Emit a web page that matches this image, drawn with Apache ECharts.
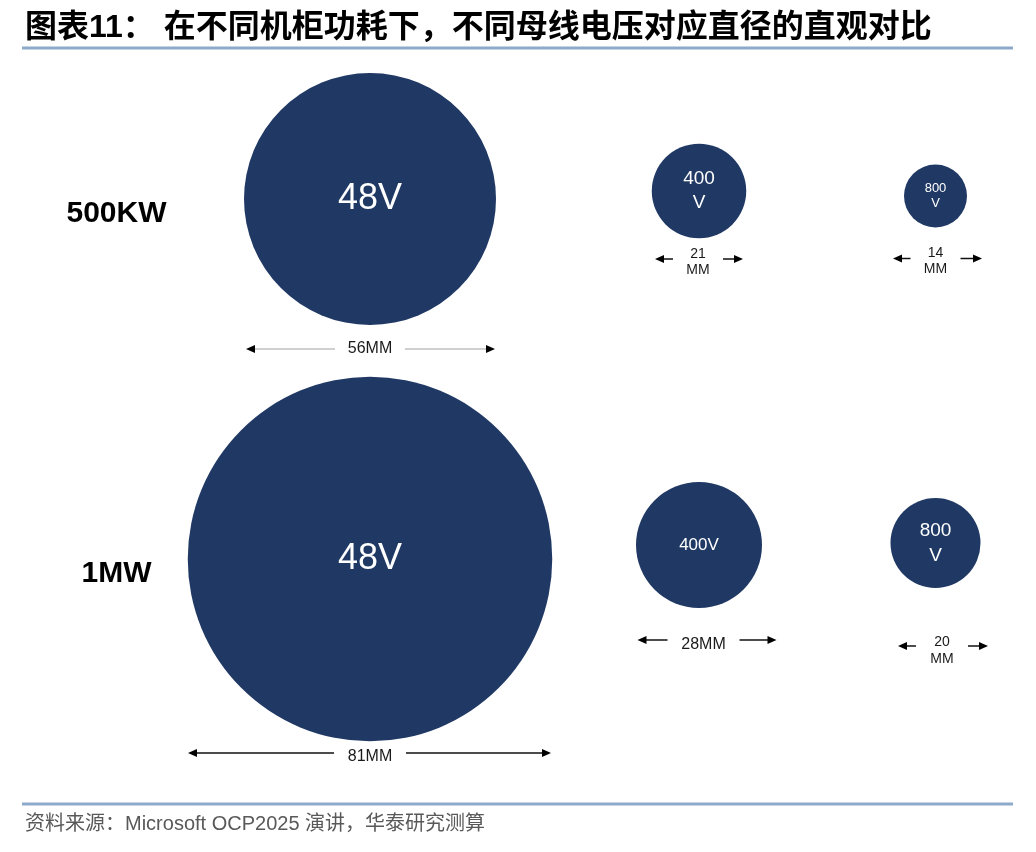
<!DOCTYPE html>
<html><head><meta charset="utf-8">
<script src="https://cdn.jsdelivr.net/npm/echarts@6/dist/echarts.min.js"></script>
<style>html,body{margin:0;padding:0;background:#fff}#c{width:1036px;height:852px}</style>
</head><body><div id="c"></div>
<script>
// ---- data ----
const powers = ['500KW', '1MW'];
const voltages = ['48V', '400V', '800V'];
const diameter48V = [56, 81];   // mm, per power level
const diameter400V = [21, 28];
const diameter800V = [14, 20];
const titleText = '图表11： 在不同机柜功耗下，不同母线电压对应直径的直观对比';
const sourceText = '资料来源：Microsoft OCP2025 演讲，华泰研究测算';

// ---- layout / style ----
const diameters = [diameter48V, diameter400V, diameter800V];
const PX_PER_MM = 4.5;
const NAVY = '#1f3864';
const SANS = "'Liberation Sans', Arial, 'Noto Sans CJK SC', sans-serif";
const grids = [
  {left: 270, width: 200, top: 19, height: 720},
  {left: 649, width: 100, top: 14, height: 708},
  {left: 885.5, width: 100, top: 22.5, height: 694}
];
// label style inside circles [col][row]
const circleLabel = [
  [{size: 36, wrap: false}, {size: 36, wrap: false}],
  [{size: 19, wrap: true, lh: 24}, {size: 17, wrap: false}],
  [{size: 13, wrap: true, lh: 15}, {size: 19, wrap: true, lh: 25}]
];
// dimension arrow layout, pixel offsets from circle centre [col][row]
const arrowLayout = [
  [{l: -124, r: 125, ay: 150, tx: 0, ty: 0, gap: 35, font: 16, wrap: false, color: '#c0c0c0'},
   {l: -182, r: 181, ay: 194, tx: 0, ty: 4, gap: 36, font: 16, wrap: false, color: '#111'}],
  [{l: -44, r: 44, ay: 68, tx: -1, ty: 3, gap: 25, font: 14, lh: 16, wrap: true, color: '#111'},
   {l: -61.5, r: 77.5, ay: 95, tx: 4.5, ty: 5, gap: 36, font: 16, wrap: false, color: '#111'}],
  [{l: -42.5, r: 46.5, ay: 62.5, tx: 0, ty: 3, gap: 25, font: 14, lh: 16, wrap: true, color: '#111'},
   {l: -37.5, r: 52.5, ay: 103, tx: 6.5, ty: 4.5, gap: 26, font: 14, lh: 17, wrap: true, color: '#111'}]
];

function arrowRenderer(col) {
  return function (params, api) {
    const row = params.dataIndex;
    const c = api.coord([api.value(0), api.value(1)]);
    const L = arrowLayout[col][row];
    const y = c[1] + L.ay;
    const xl = c[0] + L.l, xr = c[0] + L.r, tx = c[0] + L.tx;
    const ah = 9, hw = 4;
    const ls = {stroke: L.color, lineWidth: 1.5};
    return {type: 'group', children: [
      {type: 'line', shape: {x1: xl + ah - 1, y1: y, x2: tx - L.gap, y2: y}, style: ls},
      {type: 'line', shape: {x1: tx + L.gap, y1: y, x2: xr - ah + 1, y2: y}, style: ls},
      {type: 'polygon', shape: {points: [[xl, y], [xl + ah, y - hw], [xl + ah, y + hw]]}, style: {fill: '#000'}},
      {type: 'polygon', shape: {points: [[xr, y], [xr - ah, y - hw], [xr - ah, y + hw]]}, style: {fill: '#000'}},
      {type: 'text', x: tx, y: y + L.ty, style: {
        text: api.value(2) + (L.wrap ? '\nMM' : 'MM'),
        align: 'center', verticalAlign: 'middle', fontSize: L.font,
        lineHeight: L.lh || L.font + 2, fill: '#1a1a1a', fontFamily: SANS}}
    ]};
  };
}

const series = [];
voltages.forEach((v, col) => {
  const data = powers.map((p, row) => {
    const st = circleLabel[col][row];
    return {
      value: [v, p, diameters[col][row]],
      label: {
        formatter: st.wrap ? v.replace('V', '') + '\nV' : v,
        fontSize: st.size, lineHeight: st.lh || st.size + 4
      }
    };
  });
  series.push({
    type: 'scatter', xAxisIndex: col, yAxisIndex: col, clip: false,
    symbol: 'circle',
    symbolSize: val => val[2] * PX_PER_MM,
    itemStyle: {color: NAVY, opacity: 1},
    label: {show: true, position: 'inside', color: '#fff', fontFamily: SANS},
    emphasis: {disabled: true},
    silent: true,
    data: data
  });
  series.push({
    type: 'custom', xAxisIndex: col, yAxisIndex: col, clip: false, silent: true,
    renderItem: arrowRenderer(col),
    data: powers.map((p, row) => [v, p, diameters[col][row]])
  });
});

const chart = echarts.init(document.getElementById('c'));
chart.setOption({
  backgroundColor: '#fff',
  animation: false,
  grid: grids,
  xAxis: voltages.map((v, i) => ({type: 'category', gridIndex: i, data: [v], show: false})),
  yAxis: voltages.map((v, i) => ({
    type: 'category', gridIndex: i, data: powers, inverse: true, show: i === 0,
    axisLine: {show: false}, axisTick: {show: false}, splitLine: {show: false},
    axisLabel: {show: i === 0, fontSize: 30, fontWeight: 'bold', color: '#000',
      fontFamily: SANS, align: 'center', verticalAlign: 'top', margin: 153.5, lineHeight: 30}
  })),
  graphic: [
    {type: 'text', x: 25, y: 28, style: {text: titleText, fontSize: 32, fontWeight: 'bold',
      fill: '#000', fontFamily: SANS, verticalAlign: 'middle'}},
    {type: 'line', shape: {x1: 22, y1: 48, x2: 1013, y2: 48}, style: {stroke: '#8eaacb', lineWidth: 3}},
    {type: 'line', shape: {x1: 22, y1: 804, x2: 1013, y2: 804}, style: {stroke: '#8eaacb', lineWidth: 3}},
    {type: 'text', x: 25, y: 824, style: {text: sourceText, fontSize: 20,
      fill: '#595959', fontFamily: SANS, verticalAlign: 'middle'}}
  ],
  series: series
});
</script>
</body></html>
